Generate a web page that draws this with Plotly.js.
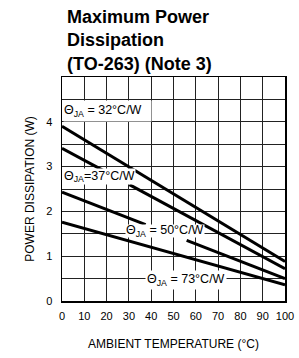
<!DOCTYPE html>
<html>
<head>
<meta charset="utf-8">
<script src="https://cdn.plot.ly/plotly-3.0.1.min.js"></script>
<style>html,body{margin:0;padding:0;background:#fff;}#chart{width:299px;height:358px;}</style>
</head>
<body>
<div id="chart"></div>
<script>
// Ambient temperature (°C)
const tempX = [0, 100];
// Power dissipation (W) for each thermal resistance, endpoints
const p32 = [3.9, 0.88];
const p37 = [3.41, 0.72];
const p50 = [2.43, 0.5];
const p73 = [1.76, 0.36];
// Segments where the line is broken to leave room for a label
const p37SegX = [[0, 18.4], [30.2, 100]];
const p50SegX = [[0, 37.5], [55.9, 100]];
const labels = ["Θ<sub>JA</sub> = 32°C/W", "Θ<sub>JA</sub>=37°C/W", "Θ<sub>JA</sub> = 50°C/W", "Θ<sub>JA</sub> = 73°C/W"];
const xTicks = [0, 10, 20, 30, 40, 50, 60, 70, 80, 90, 100];
const yTicks = [0, 1, 2, 3, 4];

function interp(p, x) { return p[0] + (p[1] - p[0]) * (x - tempX[0]) / (tempX[1] - tempX[0]); }
const lineStyle = {color: '#000', width: 3};
const traces = [];
traces.push({x: tempX, y: p32, mode: 'lines', line: lineStyle, hoverinfo: 'skip'});
p37SegX.forEach(s => traces.push({x: s, y: s.map(v => interp(p37, v)), mode: 'lines', line: lineStyle, hoverinfo: 'skip'}));
p50SegX.forEach(s => traces.push({x: s, y: s.map(v => interp(p50, v)), mode: 'lines', line: lineStyle, hoverinfo: 'skip'}));
traces.push({x: tempX, y: p73, mode: 'lines', line: lineStyle, hoverinfo: 'skip'});

const lblFont = {family: 'Liberation Sans, Arial, sans-serif', size: 12.5, color: '#000'};
const layout = {
  width: 299, height: 358,
  margin: {l: 62, r: 14, t: 77, b: 57},
  paper_bgcolor: '#fff', plot_bgcolor: '#fff',
  showlegend: false,
  title: {
    text: '<b>Maximum Power<br>Dissipation<br>(TO-263) (Note 3)</b>',
    font: {family: 'Liberation Sans, Arial, sans-serif', size: 18, color: '#000'},
    xref: 'container', x: 67 / 299, xanchor: 'left',
    yref: 'container', y: 1 - 23 / 358, yanchor: 'top'
  },
  xaxis: {
    range: [0, 100], tickvals: xTicks, ticktext: xTicks.map(String),
    showgrid: true, gridcolor: '#222', gridwidth: 1,
    showline: true, linecolor: '#000', linewidth: 1.5, mirror: true,
    zeroline: false, ticks: '', ticklabelstandoff: 4,
    tickfont: {family: 'Liberation Sans, Arial, sans-serif', size: 11, color: '#000'},
    title: {text: 'AMBIENT TEMPERATURE (°C)', font: {family: 'Liberation Sans, Arial, sans-serif', size: 12, color: '#000'}, standoff: 19},
    fixedrange: true
  },
  yaxis: {
    range: [0, 5], tickvals: yTicks, ticktext: yTicks.map(String),
    showgrid: true, gridcolor: '#222', gridwidth: 1,
    minor: {dtick: 0.5, tick0: 0, showgrid: true, gridcolor: '#222', gridwidth: 1, ticks: ''},
    showline: true, linecolor: '#000', linewidth: 1.5, mirror: true,
    zeroline: false, ticks: '', ticklabelstandoff: 6,
    tickfont: {family: 'Liberation Sans, Arial, sans-serif', size: 11, color: '#000'},
    title: {text: 'POWER DISSIPATION (W)', font: {family: 'Liberation Sans, Arial, sans-serif', size: 12, color: '#000'}, standoff: 9},
    fixedrange: true
  },
  annotations: [
    {x: 0.5, y: 4.25, xref: 'x', yref: 'y', xanchor: 'left', yanchor: 'middle', text: labels[0], showarrow: false,
     font: lblFont, bgcolor: '#fff', width: 87, height: 20, align: 'left', borderpad: 0},
    {x: 0.5, y: 2.77, xref: 'x', yref: 'y', xanchor: 'left', yanchor: 'middle', text: labels[1], showarrow: false,
     font: lblFont, bgcolor: '#fff', height: 15, align: 'left', borderpad: 0},
    {x: 46, y: 1.555, xref: 'x', yref: 'y', xanchor: 'center', yanchor: 'middle', text: labels[2], showarrow: false,
     font: lblFont, bgcolor: '#fff', borderpad: 0, height: 12},
    {x: 55.8, y: 0.48, xref: 'x', yref: 'y', xanchor: 'center', yanchor: 'middle', text: labels[3], showarrow: false,
     font: lblFont, bgcolor: '#fff', borderpad: 1}
  ]
};
Plotly.newPlot('chart', traces, layout, {staticPlot: true, displayModeBar: false});
</script>
</body>
</html>
